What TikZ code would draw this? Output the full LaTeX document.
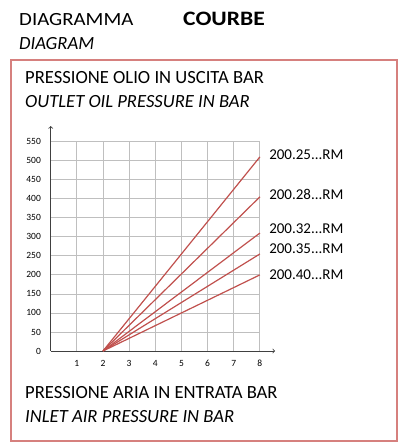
\documentclass[tikz,border=0pt]{standalone}
\usepackage{fontspec}
\setmainfont{Carlito}
\definecolor{curvered}{RGB}{192,80,77}
\definecolor{framered}{RGB}{214,128,126}
\begin{document}
\begin{tikzpicture}[
    x = 1pt,
    y = 1pt,
    >=to,
    head/.style = {anchor=base west, inner sep=0pt, font=\fontsize{18.6}{18.6}\selectfont},
    tick/.style = {inner sep=0pt, font=\fontsize{9.5}{9.5}\selectfont},
    curvelabel/.style = {anchor=base west, inner sep=0pt, font=\fontsize{15}{15}\selectfont},
    gridline/.style = {draw=black!25, line width=0.8pt},
    axis/.style = {draw=black!75, line width=0.8pt},
    curve/.style = {draw=curvered, line width=1.2pt},
    ]
\useasboundingbox (0,0) rectangle (398,443);

% header
\node[head] (diagramma) at (19,417) {\scalebox{1.12}[1]{DIAGRAMMA}};
\node[head, font=\fontsize{20.5}{20.5}\selectfont\bfseries] (courbe) at (183,417) {\scalebox{1.15}[1]{COURBE}};
\node[head, font=\fontsize{18.6}{18.6}\selectfont\itshape] (diagram) at (19,393) {DIAGRAM};

% frame
\draw[draw=framered, line width=1.2pt] (11,2) rectangle (397,383);

\node[head] (outlet_it) at (25,359) {PRESSIONE OLIO IN USCITA BAR};
\node[head, font=\fontsize{18.6}{18.6}\selectfont\itshape] (outlet_en) at (25,335) {OUTLET OIL PRESSURE IN BAR};
\node[head] (inlet_it) at (25,44) {PRESSIONE ARIA IN ENTRATA BAR};
\node[head, font=\fontsize{18.6}{18.6}\selectfont\itshape] (inlet_en) at (25,20) {INLET AIR PRESSURE IN BAR};

% chart
\begin{scope}[shift={(50.7,92)}, x=26.15pt, y=0.3806pt]
\draw[gridline] (0,0) grid[xstep=1, ystep=50] (8,550);
\coordinate (origin) at (0,0);
\coordinate (xend) at (8.58,0);
\coordinate (yend) at (0,591);
\draw[axis, ->] (origin) -- (xend);
\draw[axis, ->] (origin) -- (yend);
\foreach \v in {0,50,...,550}
    \node[tick, anchor=east] (ytick_\v) at (-0.37,\v) {\v};
\foreach \u in {1,...,8}
    \node[tick] (xtick_\u) at (\u,-31.5) {\u};

\coordinate (pivot) at (2,0);
\coordinate (end_25) at (8,510);
\coordinate (end_28) at (8,405);
\coordinate (end_32) at (8,310);
\coordinate (end_35) at (8,255);
\coordinate (end_40) at (8,200);
\draw[curve] (pivot) -- (end_25);
\draw[curve] (pivot) -- (end_28);
\draw[curve] (pivot) -- (end_32);
\draw[curve] (pivot) -- (end_35);
\draw[curve] (pivot) -- (end_40);

\node[curvelabel] (label_25) at (8.35,502) {200.25...RM};
\node[curvelabel] (label_28) at (8.35,399) {200.28...RM};
\node[curvelabel] (label_32) at (8.35,310) {200.32...RM};
\node[curvelabel] (label_35) at (8.35,255) {200.35...RM};
\node[curvelabel] (label_40) at (8.35,188) {200.40...RM};
\end{scope}

\end{tikzpicture}
\end{document}
